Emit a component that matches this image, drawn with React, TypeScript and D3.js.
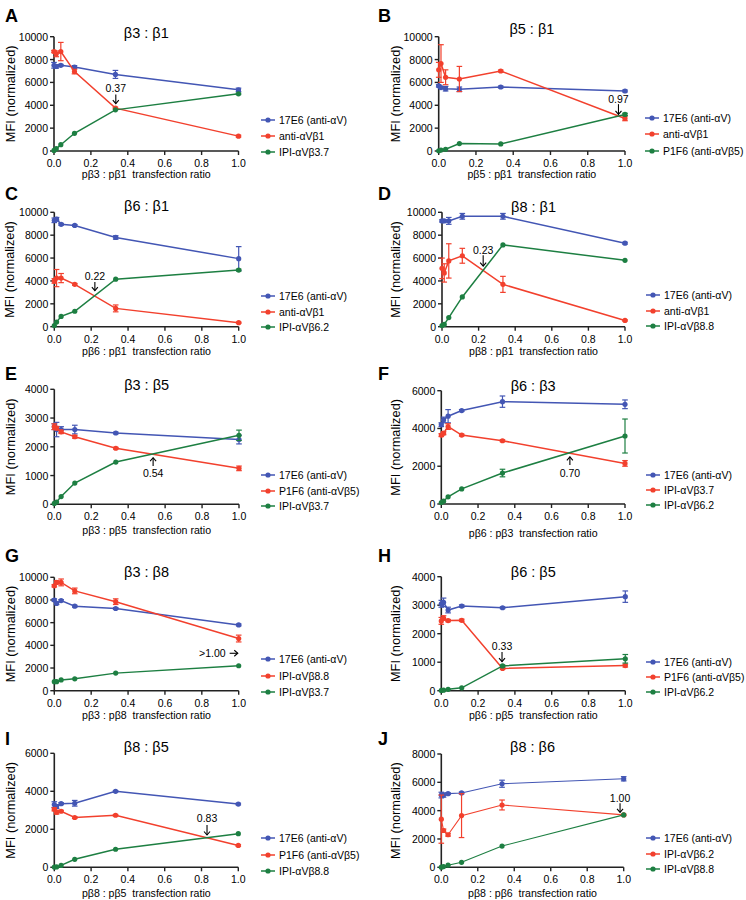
import React from "react";
import * as d3 from "d3";

// ---------- DATA ----------
const ratio = [0, 0.0123, 0.037, 0.111, 0.333, 1];
const xTicks = [0, 0.2, 0.4, 0.6, 0.8, 1.0];

const panelIds = ["A", "B", "C", "D", "E", "F", "G", "H", "I", "J"];
const titles = ["β3 : β1", "β5 : β1", "β6 : β1", "β8 : β1", "β3 : β5", "β6 : β3", "β3 : β8", "β6 : β5", "β8 : β5", "β8 : β6"];
const xLabels = [
  "pβ3 : pβ1  transfection ratio", "pβ5 : pβ1  transfection ratio",
  "pβ6 : pβ1  transfection ratio", "pβ8 : pβ1  transfection ratio",
  "pβ3 : pβ5  transfection ratio", "pβ6 : pβ3  transfection ratio",
  "pβ3 : pβ8  transfection ratio", "pβ6 : pβ5  transfection ratio",
  "pβ8 : pβ5  transfection ratio", "pβ8 : pβ6  transfection ratio",
];
const yMaxes = [10000, 10000, 10000, 10000, 4000, 6000, 10000, 4000, 6000, 8000];
const yTickSteps = [2000, 2000, 2000, 2000, 1000, 2000, 2000, 1000, 2000, 2000];

const seriesBlueNames = ["17E6 (anti-αV)", "17E6 (anti-αV)", "17E6 (anti-αV)", "17E6 (anti-αV)", "17E6 (anti-αV)", "17E6 (anti-αV)", "17E6 (anti-αV)", "17E6 (anti-αV)", "17E6 (anti-αV)", "17E6 (anti-αV)"];
const seriesRedNames = ["anti-αVβ1", "anti-αVβ1", "anti-αVβ1", "anti-αVβ1", "P1F6 (anti-αVβ5)", "IPI-αVβ3.7", "IPI-αVβ8.8", "P1F6 (anti-αVβ5)", "P1F6 (anti-αVβ5)", "IPI-αVβ6.2"];
const seriesGreenNames = ["IPI-αVβ3.7", "P1F6 (anti-αVβ5)", "IPI-αVβ6.2", "IPI-αVβ8.8", "IPI-αVβ3.7", "IPI-αVβ6.2", "IPI-αVβ3.7", "IPI-αVβ6.2", "IPI-αVβ8.8", "IPI-αVβ8.8"];

// blue = 17E6, red = second series, green = third series
const blueA = [7500, 7400, 7500, 7350, 6700, 5350];
const blueAErr = [250, 150, 80, 120, 350, 150];
const redA = [8700, 8500, 8700, 6950, 3750, 1300];
const redAErr = [100, 250, 800, 200, 80, 80];
const greenA = [50, 200, 550, 1550, 3600, 5000];
const greenAErr = [0, 0, 0, 0, 0, 60];

const blueB = [5700, 5550, 5450, 5400, 5600, 5250];
const blueBErr = [100, 100, 200, 200, 80, 80];
const redB = [7100, 7650, 6450, 6300, 7000, 2850];
const redBErr = [650, 1650, 650, 1100, 80, 200];
const greenB = [20, 80, 150, 650, 620, 3200];
const greenBErr = [0, 0, 0, 0, 0, 100];

const blueC = [9300, 9400, 8950, 8850, 7800, 5950];
const blueCErr = [200, 150, 80, 80, 150, 1050];
const redC = [4000, 4250, 4250, 3700, 1600, 350];
const redCErr = [200, 750, 400, 80, 300, 50];
const greenC = [100, 400, 900, 1350, 4150, 4950];
const greenCErr = [0, 0, 0, 0, 0, 80];

const blueD = [9250, 9250, 9250, 9650, 9650, 7300];
const blueDErr = [100, 100, 300, 250, 250, 80];
const redD = [5100, 4700, 5750, 6200, 3700, 550];
const redDErr = [900, 800, 1500, 650, 700, 50];
const greenD = [100, 200, 800, 2600, 7150, 5800];
const greenDErr = [0, 0, 0, 0, 0, 0];

const blueE = [2700, 2600, 2600, 2600, 2480, 2250];
const blueEErr = [100, 250, 100, 150, 30, 150];
const redE = [2700, 2650, 2520, 2350, 1950, 1250];
const redEErr = [100, 60, 60, 50, 30, 80];
const greenE = [30, 80, 270, 740, 1470, 2400];
const greenEErr = [0, 0, 0, 0, 0, 180];

const blueF = [4200, 4450, 4650, 4950, 5420, 5280];
const blueFErr = [100, 150, 350, 50, 300, 230];
const redF = [3650, 3750, 4100, 3650, 3350, 2150];
const redFErr = [80, 80, 150, 50, 50, 150];
const greenF = [80, 150, 380, 800, 1640, 3600];
const greenFErr = [0, 0, 0, 0, 200, 900];

const blueG = [8000, 7700, 7950, 7450, 7250, 5800];
const blueGErr = [100, 100, 80, 80, 80, 80];
const redG = [9250, 9550, 9550, 8800, 7850, 4600];
const redGErr = [100, 150, 300, 250, 250, 300];
const greenG = [800, 800, 950, 1050, 1550, 2200];
const greenGErr = [0, 0, 0, 0, 0, 0];

const blueH = [3050, 3100, 2830, 2970, 2910, 3300];
const blueHErr = [120, 150, 100, 40, 30, 200];
const redH = [2450, 2550, 2460, 2470, 780, 880];
const redHErr = [120, 80, 40, 40, 30, 50];
const greenH = [10, 20, 50, 100, 870, 1120];
const greenHErr = [0, 0, 0, 0, 30, 150];

const blueI = [3300, 3200, 3350, 3370, 4000, 3330];
const blueIErr = [150, 100, 50, 150, 40, 40];
const redI = [3050, 2900, 2950, 2620, 2740, 1150];
const redIErr = [80, 100, 50, 50, 40, 40];
const greenI = [10, 20, 100, 420, 950, 1770];
const greenIErr = [0, 0, 0, 0, 0, 0];

const blueJ = [5100, 5100, 5200, 5250, 5900, 6250];
const blueJErr = [200, 150, 60, 60, 250, 150];
const redJ = [3400, 2600, 2300, 3650, 4400, 3700];
const redJErr = [1700, 100, 100, 1550, 350, 50];
const greenJ = [10, 50, 150, 350, 1500, 3700];
const greenJErr = [0, 0, 0, 0, 0, 0];

const blueAll = [blueA, blueB, blueC, blueD, blueE, blueF, blueG, blueH, blueI, blueJ];
const blueErrAll = [blueAErr, blueBErr, blueCErr, blueDErr, blueEErr, blueFErr, blueGErr, blueHErr, blueIErr, blueJErr];
const redAll = [redA, redB, redC, redD, redE, redF, redG, redH, redI, redJ];
const redErrAll = [redAErr, redBErr, redCErr, redDErr, redEErr, redFErr, redGErr, redHErr, redIErr, redJErr];
const greenAll = [greenA, greenB, greenC, greenD, greenE, greenF, greenG, greenH, greenI, greenJ];
const greenErrAll = [greenAErr, greenBErr, greenCErr, greenDErr, greenEErr, greenFErr, greenGErr, greenHErr, greenIErr, greenJErr];

// crossover annotations: label, x (ratio), label y, arrow start y, arrow end y (data units)
const annotLabels = ["0.37", "0.97", "0.22", "0.23", "0.54", "0.70", ">1.00", "0.33", "0.83", "1.00"];
const annotX = [0.335, 0.965, 0.22, 0.225, 0.535, 0.70, 0.94, 0.33, 0.83, 0.98];
const annotTextY = [5480, 4520, 4450, 6700, 1080, 1620, 3300, 1580, 2580, 4920];
const annotFromY = [4950, 4100, 3900, 6250, 1330, 2060, 3300, 1360, 2220, 4520];
const annotToY = [4150, 3200, 3150, 5300, 1620, 2500, 3300, 1020, 1700, 3880];

// ---------- LAYOUT ----------
const layout = [
  { x0: 54, x1: 238.5, yT: 36.7, yB: 151, lab: [5, 22], title: 33, xl: 174.3, yl: 10, legX: 261, legRows: [120, 136, 152] },
  { x0: 438.7, x1: 625, yT: 36.7, yB: 151, lab: [378, 22], title: 29.3, xl: 174.3, yl: 395.7, legX: 645, legRows: [118, 134, 151] },
  { x0: 54.3, x1: 238.7, yT: 212.3, yB: 326.7, lab: [5, 200], title: 206, xl: 350.7, yl: 9.5, legX: 261, legRows: [296, 312, 327] },
  { x0: 442, x1: 625, yT: 212.3, yB: 326.7, lab: [378, 200], title: 206.7, xl: 350.7, yl: 395.7, legX: 646, legRows: [295, 311, 326] },
  { x0: 54.3, x1: 239, yT: 389.3, yB: 504.3, lab: [5, 380], title: 385, xl: 530, yl: 10, legX: 261, legRows: [475, 491, 506] },
  { x0: 441.3, x1: 625, yT: 390.7, yB: 504, lab: [378, 380], title: 386, xl: 533.3, yl: 395.7, legX: 646, legRows: [475, 490, 505] },
  { x0: 54.3, x1: 238.7, yT: 577.3, yB: 690.7, lab: [5, 562], title: 572.3, xl: 715, yl: 10, legX: 261, legRows: [659, 676, 692] },
  { x0: 441.3, x1: 625.3, yT: 576.7, yB: 690.7, lab: [378, 562], title: 571.7, xl: 715, yl: 395.7, legX: 646, legRows: [662, 677, 692] },
  { x0: 54.3, x1: 238.3, yT: 753.3, yB: 867.3, lab: [5, 745], title: 747.3, xl: 893.3, yl: 10, legX: 261, legRows: [838, 855, 871] },
  { x0: 441.3, x1: 623.7, yT: 754, yB: 867.3, lab: [378, 745], title: 746.7, xl: 893.3, yl: 395.7, legX: 646, legRows: [838, 854, 869] },
];

const BLUE = "#4356b4";
const RED = "#f2402d";
const GREEN = "#1d7f42";
const AXIS = "#222";
const FONT = "'Liberation Sans', Arial, sans-serif";

function Series({ xs, ys, errs, color, x, y, thin }: any) {
  const line = d3.line<number>().x((_, i) => x(xs[i])).y((v) => y(v));
  return (
    <g>
      <path d={line(ys) || ""} fill="none" stroke={color} strokeWidth={thin ? 1.1 : 1.5} />
      {ys.map((v: number, i: number) => {
        const e = errs[i];
        if (!e) return null;
        const cx = x(xs[i]);
        return (
          <g key={"e" + i} stroke={color} strokeWidth={1.2}>
            <line x1={cx} x2={cx} y1={y(v - e)} y2={y(v + e)} />
            <line x1={cx - 2.8} x2={cx + 2.8} y1={y(v - e)} y2={y(v - e)} />
            <line x1={cx - 2.8} x2={cx + 2.8} y1={y(v + e)} y2={y(v + e)} />
          </g>
        );
      })}
      {ys.map((v: number, i: number) => (
        <circle key={"c" + i} cx={x(xs[i])} cy={y(v)} r={2.6} fill={color} />
      ))}
    </g>
  );
}

function Panel({ idx }: { idx: number }) {
  const L = layout[idx];
  const x = d3.scaleLinear().domain([0, 1]).range([L.x0, L.x1]);
  const y = d3.scaleLinear().domain([0, yMaxes[idx]]).range([L.yB, L.yT]);
  const yTicks = d3.range(0, yMaxes[idx] + 1, yTickSteps[idx]);
  const cx = (L.x0 + L.x1) / 2;
  const ax = x(annotX[idx]);
  const horiz = annotLabels[idx].startsWith(">");
  const colors = [BLUE, RED, GREEN];
  const names = [seriesBlueNames[idx], seriesRedNames[idx], seriesGreenNames[idx]];
  const thin = idx === 9;

  let annot;
  if (horiz) {
    const ay = y(annotTextY[idx]);
    const xa = ax + 2;
    const xb = x(0.995);
    annot = (
      <g>
        <text x={ax - 2} y={ay} textAnchor="end" dominantBaseline="central" fontSize={10.5}>{annotLabels[idx]}</text>
        <line x1={xa} x2={xb} y1={ay} y2={ay} stroke="#000" strokeWidth={1.1} />
        <path d={`M${xb - 3.5},${ay - 3}L${xb},${ay}L${xb - 3.5},${ay + 3}`} fill="none" stroke="#000" strokeWidth={1.1} />
      </g>
    );
  } else {
    const ty = y(annotTextY[idx]);
    const y1 = y(annotFromY[idx]);
    const y2 = y(annotToY[idx]);
    const dir = y2 > y1 ? 1 : -1;
    annot = (
      <g>
        <text x={ax} y={ty} textAnchor="middle" dominantBaseline="central" fontSize={10.5}>{annotLabels[idx]}</text>
        <line x1={ax} x2={ax} y1={y1} y2={y2} stroke="#000" strokeWidth={1.1} />
        <path d={`M${ax - 3},${y2 - dir * 3.5}L${ax},${y2}L${ax + 3},${y2 - dir * 3.5}`} fill="none" stroke="#000" strokeWidth={1.1} />
      </g>
    );
  }

  return (
    <g fontFamily={FONT}>
      <text x={L.lab[0]} y={L.lab[1]} fontSize={18} fontWeight="bold">{panelIds[idx]}</text>
      <text x={cx} y={L.title} textAnchor="middle" dominantBaseline="central" fontSize={14.5}>{titles[idx]}</text>
      {/* axes */}
      <line x1={L.x0} x2={L.x0} y1={L.yT} y2={L.yB} stroke={AXIS} strokeWidth={1.6} />
      <line x1={L.x0 - 0.8} x2={L.x1} y1={L.yB} y2={L.yB} stroke={AXIS} strokeWidth={1.6} />
      {yTicks.map((t) => (
        <g key={"yt" + t}>
          <line x1={L.x0 - 4} x2={L.x0} y1={y(t)} y2={y(t)} stroke={AXIS} strokeWidth={1.4} />
          <text x={L.x0 - 6} y={y(t)} textAnchor="end" dominantBaseline="central" fontSize={10.5}>{t}</text>
        </g>
      ))}
      {xTicks.map((t) => (
        <g key={"xt" + t}>
          <line x1={x(t)} x2={x(t)} y1={L.yB} y2={L.yB + 4} stroke={AXIS} strokeWidth={1.4} />
          <text x={x(t)} y={L.yB + 12} textAnchor="middle" dominantBaseline="central" fontSize={10.5}>{t.toFixed(1)}</text>
        </g>
      ))}
      <text x={cx} y={L.xl} textAnchor="middle" dominantBaseline="central" fontSize={10.6} style={{ whiteSpace: "pre" }}>{xLabels[idx]}</text>
      <text transform={`translate(${L.yl},${(L.yT + L.yB) / 2}) rotate(-90)`} textAnchor="middle" dominantBaseline="central" fontSize={12.8}>MFI (normalized)</text>
      <Series xs={ratio} ys={blueAll[idx]} errs={blueErrAll[idx]} color={BLUE} x={x} y={y} thin={thin} />
      <Series xs={ratio} ys={redAll[idx]} errs={redErrAll[idx]} color={RED} x={x} y={y} thin={thin} />
      <Series xs={ratio} ys={greenAll[idx]} errs={greenErrAll[idx]} color={GREEN} x={x} y={y} thin={thin} />
      {annot}
      {names.map((n, i) => (
        <g key={"lg" + i}>
          <line x1={L.legX} x2={L.legX + 14} y1={L.legRows[i]} y2={L.legRows[i]} stroke={colors[i]} strokeWidth={1.5} />
          <circle cx={L.legX + 7} cy={L.legRows[i]} r={2.6} fill={colors[i]} />
          <text x={L.legX + 18} y={L.legRows[i]} dominantBaseline="central" fontSize={10.5}>{n}</text>
        </g>
      ))}
    </g>
  );
}

export default function App() {
  return (
    <svg width={746} height={900} style={{ position: "absolute", left: 0, top: 0, background: "#fff" }}>
      <rect width={746} height={900} fill="#fff" />
      {panelIds.map((_, i) => (
        <Panel key={i} idx={i} />
      ))}
    </svg>
  );
}
